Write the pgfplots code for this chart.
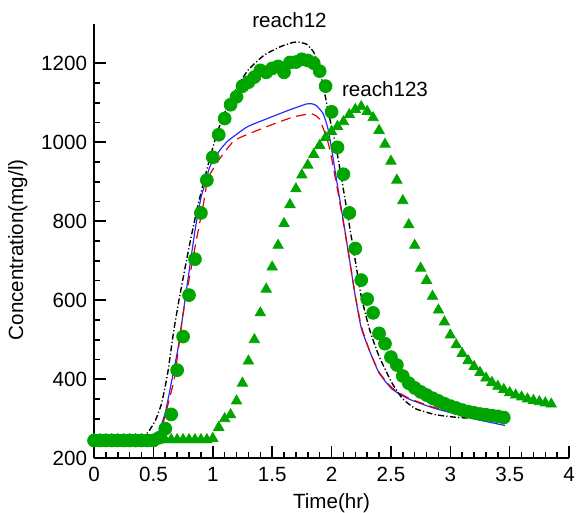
\documentclass[border=0pt]{standalone}
\usepackage{fontspec}
\setmainfont{Liberation Sans}
\usepackage{pgfplots}
\pgfplotsset{compat=1.18}

\definecolor{obsgreen}{RGB}{0,165,0}
\definecolor{simblue}{RGB}{40,40,255}
\definecolor{simred}{RGB}{225,0,0}

\begin{document}
\begin{tikzpicture}
\begin{axis}[
    scale only axis,
    width=240pt, height=219.5pt,
    xmin=0, xmax=4, ymin=200, ymax=1300,
    axis x line=bottom, axis y line=left,
    axis line style={-, line width=1pt},
    xtick={0,0.5,...,4}, minor x tick num=4,
    ytick={200,400,...,1200}, minor y tick num=3,
    tick align=inside,
    major tick length=6pt, minor tick length=3pt,
    every tick/.style={black, line width=0.8pt},
    font=\fontsize{10.4}{12}\selectfont,
    /pgf/number format/assume math mode=true,
    xticklabel style={/pgf/number format/fixed, yshift=-1pt},
    yticklabel style={/pgf/number format/1000 sep={}},
    xlabel={Time(hr)},
    ylabel={Concentration(mg/l)},
    xlabel style={at={(axis description cs:0.5,0)}, anchor=center, yshift=-22.5pt},
    ylabel style={at={([shift={(-38.5pt,-4.5pt)}]axis description cs:0,0.5)}, anchor=center, rotate=0},
    clip=false,
]

% reach123 observed
\addplot[only marks, mark=triangle*, mark size=3pt, color=obsgreen] coordinates {
    (0,247) (0.05,247) (0.1,247) (0.15,247) (0.2,247) (0.25,247) (0.3,247)
    (0.35,247) (0.4,247) (0.45,247) (0.5,247) (0.55,247) (0.6,247) (0.65,247)
    (0.7,247) (0.75,247) (0.8,247) (0.85,247) (0.9,247) (0.95,247) (1.0,250)
    (1.05,278) (1.1,300) (1.15,310) (1.2,345) (1.25,390) (1.3,446) (1.35,500)
    (1.4,568) (1.45,628) (1.5,684) (1.55,739) (1.6,794) (1.65,842) (1.7,882)
    (1.75,917) (1.8,942) (1.85,969) (1.9,992) (1.95,1012) (2.0,1027) (2.05,1040)
    (2.1,1052) (2.15,1070) (2.2,1083) (2.25,1090) (2.3,1078) (2.35,1062)
    (2.4,1030) (2.45,995) (2.5,952) (2.55,904) (2.6,852) (2.65,791) (2.7,739)
    (2.75,681) (2.8,650) (2.85,610) (2.9,575) (2.95,545) (3.0,512) (3.05,487)
    (3.1,465) (3.15,447) (3.2,432) (3.25,417) (3.3,403) (3.35,392) (3.4,382)
    (3.45,374) (3.5,366) (3.55,360) (3.6,355) (3.65,350) (3.7,346) (3.75,343)
    (3.8,340) (3.85,337)
};

% reach12 observed
\addplot[only marks, mark=*, mark size=3.25pt, color=obsgreen] coordinates {
    (0,245) (0.05,245) (0.1,245) (0.15,245) (0.2,245) (0.25,245) (0.3,245)
    (0.35,245) (0.4,245) (0.45,245) (0.5,245) (0.55,252) (0.6,275) (0.65,311)
    (0.7,423) (0.75,508) (0.8,613) (0.85,704) (0.9,821) (0.95,904) (1.0,962)
    (1.05,1019) (1.1,1060) (1.15,1095) (1.2,1115) (1.25,1142) (1.3,1152)
    (1.35,1165) (1.4,1182) (1.45,1177) (1.5,1187) (1.55,1192) (1.6,1177)
    (1.65,1202) (1.7,1203) (1.75,1210) (1.8,1207) (1.85,1200) (1.9,1180)
    (1.95,1142) (2.0,1077) (2.05,987) (2.1,919) (2.15,821) (2.2,731) (2.25,651)
    (2.3,603) (2.35,568) (2.4,516) (2.45,490) (2.5,456) (2.55,436) (2.6,408)
    (2.65,390) (2.7,378) (2.75,368) (2.8,360) (2.85,352) (2.9,345) (2.95,338)
    (3.0,332) (3.05,327) (3.1,322) (3.15,318) (3.2,315) (3.25,312) (3.3,310)
    (3.35,308) (3.4,306) (3.45,303)
};

% simulated, blue solid
\addplot[simblue, line width=0.6pt, smooth, tension=0.3] coordinates {
    (0,245) (0.5,245) (0.54,262) (0.6,315) (0.65,390) (0.71,483) (0.79,651)
    (0.85,776) (0.9,859) (0.94,900) (0.97,934) (1.01,959) (1.07,984) (1.13,1004)
    (1.29,1039) (1.46,1060) (1.63,1080) (1.79,1097) (1.84,1097) (1.875,1092)
    (1.93,1072) (1.97,1034) (2.0,984) (2.05,890) (2.1,800) (2.15,705) (2.2,610)
    (2.25,530) (2.32,472) (2.4,416) (2.51,375) (2.65,350) (2.85,328) (3.07,310)
    (3.27,295) (3.46,283)
};

% simulated, red dashed
\addplot[simred, line width=0.6pt, dash pattern=on 5pt off 3pt, smooth, tension=0.3] coordinates {
    (0,245) (0.52,245) (0.57,275) (0.62,333) (0.68,408) (0.75,566) (0.85,734)
    (0.92,842) (0.96,909) (1.06,959) (1.18,1004) (1.35,1027) (1.52,1047)
    (1.68,1064) (1.83,1072) (1.9,1058) (1.97,1000) (2.0,960) (2.05,880)
    (2.1,795) (2.15,705) (2.2,612) (2.25,535) (2.32,472) (2.4,418) (2.51,378)
    (2.65,352) (2.85,330) (3.07,314) (3.27,300) (3.46,290)
};

% simulated, black dash-dot
\addplot[black, line width=0.7pt, dash pattern=on 3pt off 1.2pt on 0.6pt off 1.2pt, smooth, tension=0.3] coordinates {
    (0,245) (0.375,245) (0.42,254) (0.47,272) (0.52,298) (0.57,340)
    (0.62,415) (0.67,520) (0.72,608) (0.8,734) (0.875,841) (0.96,942) (1.04,1027)
    (1.15,1110) (1.29,1180) (1.43,1220) (1.57,1242) (1.68,1253) (1.73,1253)
    (1.79,1248) (1.85,1228) (1.89,1192) (1.93,1142) (1.98,1067) (2.04,984)
    (2.1,880) (2.15,790) (2.2,700) (2.25,610) (2.32,526) (2.4,458) (2.51,390)
    (2.6,350) (2.71,325) (2.88,310) (3.07,303) (3.27,300) (3.45,300)
};

\node[font=\fontsize{10.4}{12}\selectfont] at (axis cs:1.646,1308) {reach12};
\node[font=\fontsize{10.4}{12}\selectfont] at (axis cs:2.45,1135) {reach123};

\coordinate (O) at (axis cs:0,200);
\end{axis}
\pgfresetboundingbox
\path[use as bounding box] ([shift={(-47.5pt,-27.5pt)}]O) rectangle ([shift={(244pt,231.5pt)}]O);
\end{tikzpicture}
\end{document}
